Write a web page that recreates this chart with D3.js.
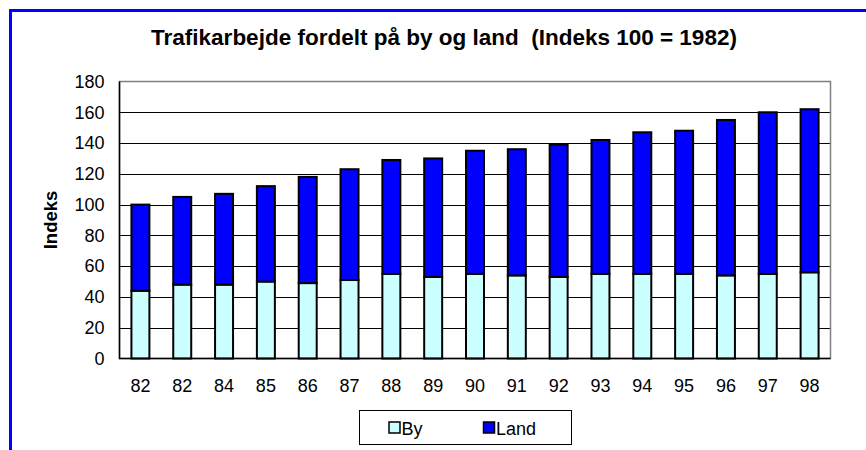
<!DOCTYPE html>
<html>
<head>
<meta charset="utf-8">
<script src="https://cdn.jsdelivr.net/npm/d3@7"></script>
<style>
  body { margin: 0; background: #fff; }
  svg { display: block; font-family: "Liberation Sans", Arial, sans-serif; }
</style>
</head>
<body>
<div id="chart"></div>
<script>
// year labels (the second "82" is in the original)
var years = ["82", "82", "84", "85", "86", "87", "88", "89", "90", "91", "92", "93", "94", "95", "96", "97", "98"];
var byValues = [44, 48, 48, 50, 49, 51, 55, 53, 55, 54, 53, 55, 55, 55, 54, 55, 56];
var totalValues = [100, 105, 107, 112, 118, 123, 129, 130, 135, 136, 139, 142, 147, 148, 155, 160, 162];
var landValues = totalValues.map(function(t, i) { return t - byValues[i]; });
var yTicks = [0, 20, 40, 60, 80, 100, 120, 140, 160, 180];
var seriesNames = ["By", "Land"];
var colors = ["#CCFFFF", "#0000FF"];

var width = 866, height = 450;
var plot = { left: 119.5, right: 830.5, top: 81.5, bottom: 358.5 };
var fontFamily = "Liberation Sans, Arial, sans-serif";

var svg = d3.select("#chart").append("svg")
    .attr("width", width)
    .attr("height", height);

// outer blue frame (only top and left edges are inside the picture)
svg.append("path")
    .attr("d", "M10.5," + height + "V10.5H" + width)
    .attr("fill", "none")
    .attr("stroke", "#0000FF")
    .attr("stroke-width", 3);

svg.append("text")
    .attr("x", 444)
    .attr("y", 45)
    .attr("text-anchor", "middle")
    .attr("font-size", 22.5)
    .attr("font-weight", "bold")
    .style("white-space", "pre")
    .text("Trafikarbejde fordelt på by og land  (Indeks 100 = 1982)");

var x = d3.scaleBand()
    .domain(d3.range(years.length))
    .range([plot.left, plot.right])
    .paddingInner(0.57)
    .paddingOuter(0.285);

var y = d3.scaleLinear()
    .domain([0, 180])
    .range([plot.bottom, plot.top]);

// gridlines
svg.append("g")
    .selectAll("line")
    .data(yTicks.slice(1, -1))
    .enter().append("line")
    .attr("x1", plot.left)
    .attr("x2", plot.right)
    .attr("y1", function(d) { return Math.round(y(d)) + 0.5; })
    .attr("y2", function(d) { return Math.round(y(d)) + 0.5; })
    .attr("stroke", "#000")
    .attr("stroke-width", 1);

// plot border
svg.append("rect")
    .attr("x", plot.left)
    .attr("y", plot.top)
    .attr("width", plot.right - plot.left)
    .attr("height", plot.bottom - plot.top)
    .attr("fill", "none")
    .attr("stroke", "#808080")
    .attr("stroke-width", 1.5);

var stack = years.map(function(d, i) {
    return [
        { i: i, y0: 0, y1: byValues[i], c: colors[0] },
        { i: i, y0: byValues[i], y1: byValues[i] + landValues[i], c: colors[1] }
    ];
});

svg.append("g")
    .selectAll("rect")
    .data(d3.merge(stack))
    .enter().append("rect")
    .attr("x", function(d) { return x(d.i); })
    .attr("width", x.bandwidth())
    .attr("y", function(d) { return y(d.y1); })
    .attr("height", function(d) { return y(d.y0) - y(d.y1); })
    .attr("fill", function(d) { return d.c; })
    .attr("stroke", "#000")
    .attr("stroke-width", 2);

// axis lines
svg.append("path")
    .attr("d", "M" + plot.left + "," + plot.top + "V" + plot.bottom + "H" + plot.right)
    .attr("fill", "none")
    .attr("stroke", "#000")
    .attr("stroke-width", 1.5);

var yAxis = svg.append("g")
    .attr("transform", "translate(" + plot.left + ",0)")
    .call(d3.axisLeft(y).tickValues(yTicks).tickSize(0).tickPadding(15))
    .attr("font-size", 18)
    .attr("font-family", fontFamily);
yAxis.select(".domain").remove();
yAxis.selectAll("text").attr("fill", "#000");

var xAxis = svg.append("g")
    .attr("transform", "translate(0," + plot.bottom + ")")
    .call(d3.axisBottom(x).tickFormat(function(i) { return years[i]; }).tickSize(0).tickPadding(21))
    .attr("font-size", 18)
    .attr("font-family", fontFamily);
xAxis.select(".domain").remove();
xAxis.selectAll("text").attr("fill", "#000");

svg.append("text")
    .attr("transform", "translate(57,220) rotate(-90)")
    .attr("text-anchor", "middle")
    .attr("font-size", 18.5)
    .attr("font-weight", "bold")
    .text("Indeks");

// legend
var legend = svg.append("g");
legend.append("rect")
    .attr("x", 359.5)
    .attr("y", 410.5)
    .attr("width", 212)
    .attr("height", 34)
    .attr("fill", "#fff")
    .attr("stroke", "#000")
    .attr("stroke-width", 1);

var legendX = [389, 483.5];
var items = legend.selectAll("g.item")
    .data(seriesNames)
    .enter().append("g")
    .attr("class", "item")
    .attr("transform", function(d, i) { return "translate(" + legendX[i] + ",422)"; });
items.append("rect")
    .attr("width", 11)
    .attr("height", 11)
    .attr("fill", function(d, i) { return colors[i]; })
    .attr("stroke", "#000")
    .attr("stroke-width", 1.5);
items.append("text")
    .attr("x", 12.5)
    .attr("y", 12.5)
    .attr("font-size", 18)
    .text(function(d) { return d; });
</script>
</body>
</html>
